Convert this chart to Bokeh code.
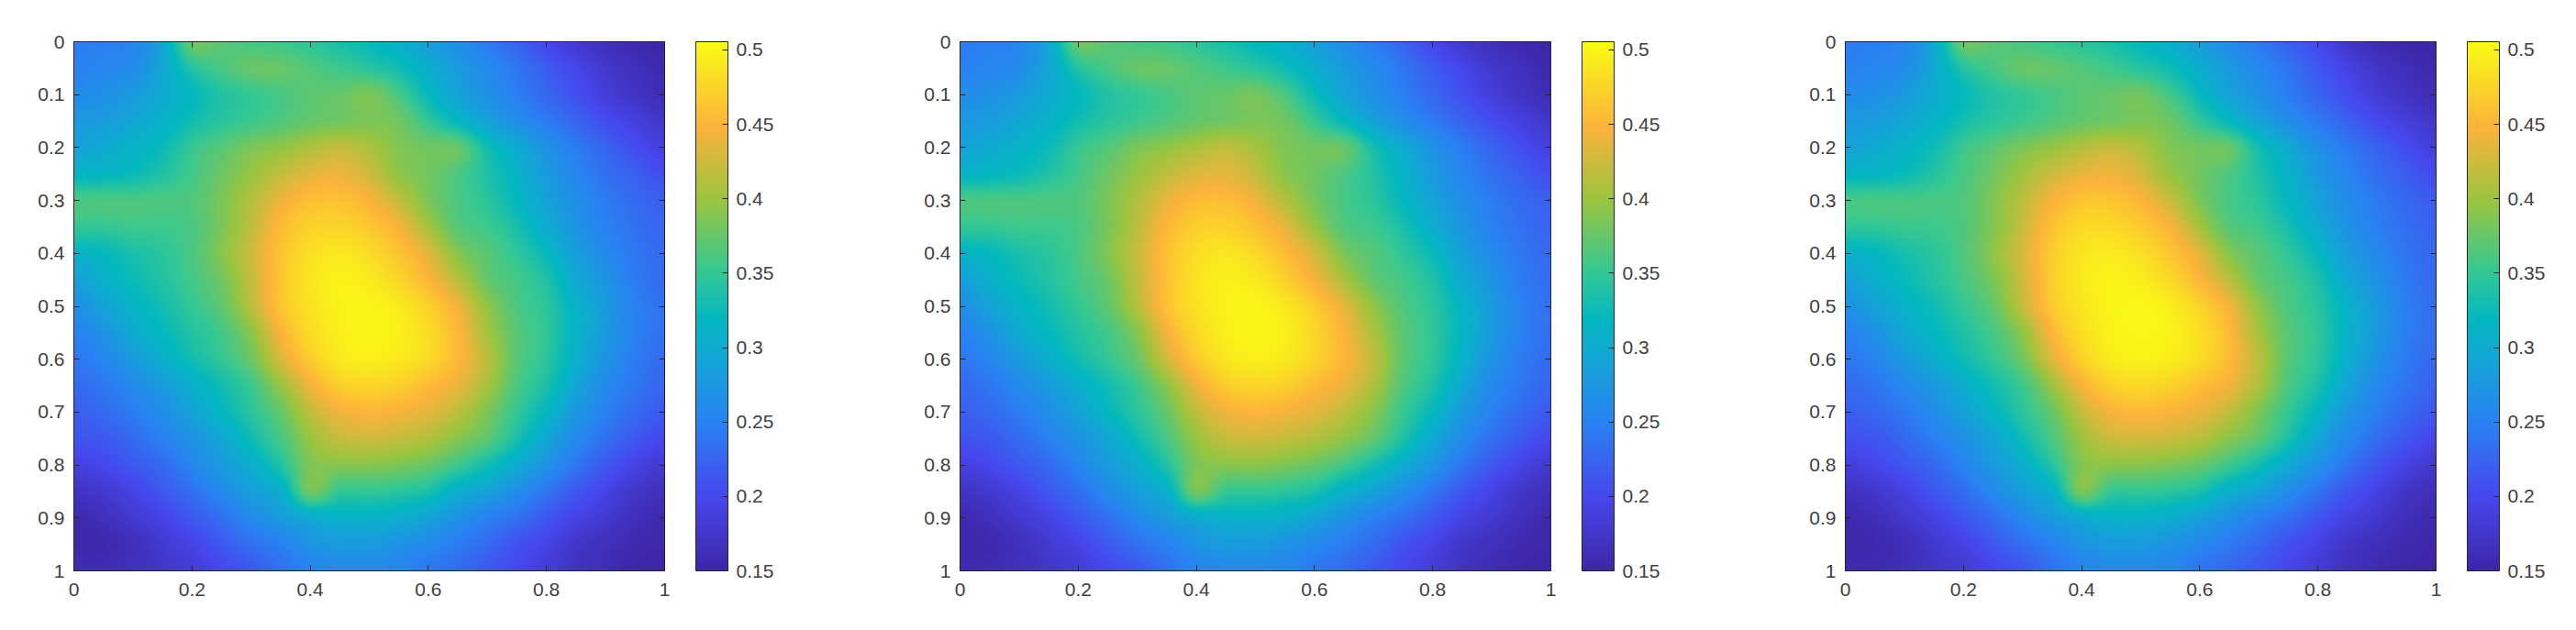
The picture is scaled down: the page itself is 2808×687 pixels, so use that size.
import numpy as np
from bokeh.embed import file_html
from bokeh.layouts import row
from bokeh.models import ColorBar, FixedTicker, LinearAxis, LinearColorMapper, Range1d
from bokeh.plotting import figure
from bokeh.resources import INLINE

AXIS_TICKS = [0, 0.1, 0.2, 0.3, 0.4, 0.5, 0.6, 0.7, 0.8, 0.9, 1]
X_TICKS = [0, 0.2, 0.4, 0.6, 0.8, 1]
Y_LABELS = ["0", "0.1", "0.2", "0.3", "0.4", "0.5", "0.6", "0.7", "0.8", "0.9", "1"]
X_LABELS = ["0", "0.2", "0.4", "0.6", "0.8", "1"]
CB_TICKS = [0.15, 0.2, 0.25, 0.3, 0.35, 0.4, 0.45, 0.5]
CB_LABELS = ["0.15", "0.2", "0.25", "0.3", "0.35", "0.4", "0.45", "0.5"]
C_LOW, C_HIGH = 0.15, 0.5055

# values, in thousandths, at steps of 0.05 along each axis
panel_1 = [
[245,250,255,295,378,368,360,355,347,335,322,306,285,265,245,225,200,180,165,155,150],
[250,255,262,295,340,360,375,375,365,355,345,330,305,280,260,240,218,198,178,165,155],
[262,268,280,300,320,340,350,360,370,375,385,360,322,290,268,248,228,208,188,172,160],
[278,282,295,310,330,345,355,365,375,380,385,380,350,320,290,265,245,225,205,190,175],
[290,300,312,325,352,368,385,395,410,420,408,388,380,375,330,300,270,245,225,205,190],
[315,318,325,340,358,378,398,420,435,440,425,395,380,362,338,312,280,255,235,220,205],
[360,362,362,362,365,385,412,440,458,460,448,420,385,362,345,320,290,265,245,230,220],
[348,350,355,355,362,385,418,455,472,475,465,445,405,368,355,335,302,272,250,235,225],
[312,320,335,345,362,390,425,462,483,490,480,462,435,390,368,348,322,285,260,240,230],
[285,308,325,340,358,380,420,462,488,497,492,476,450,415,375,358,338,298,272,245,230],
[265,290,312,330,350,372,415,462,485,497,500,492,472,442,395,362,345,312,280,250,235],
[250,270,300,320,340,358,392,447,480,495,500,496,480,452,405,368,348,312,280,250,235],
[240,255,280,305,330,350,378,430,468,490,495,490,478,452,415,368,345,308,272,245,230],
[230,240,260,280,305,330,355,398,442,470,475,470,455,438,405,362,335,295,260,240,225],
[220,230,245,265,290,318,345,375,418,442,450,445,435,415,385,350,318,278,250,230,215],
[210,215,230,250,270,295,328,360,398,420,425,420,410,390,370,335,295,260,235,215,200],
[190,200,215,230,255,280,305,340,385,390,390,385,375,355,330,300,270,240,215,195,180],
[170,180,195,215,235,260,285,305,380,350,350,345,335,305,290,265,240,215,195,175,165],
[155,165,180,195,215,235,260,280,300,310,310,305,290,270,250,235,215,195,180,165,155],
[152,155,165,180,195,215,235,250,270,280,280,270,260,245,230,210,195,175,165,155,152],
[160,160,165,175,185,200,215,235,250,260,260,255,240,230,215,200,185,170,160,152,150],
]
panel_2 = [
[245,250,255,295,378,368,360,355,347,335,320,306,285,265,245,225,200,180,165,155,150],
[250,255,262,295,340,360,375,375,365,355,345,328,305,280,260,240,218,198,178,165,155],
[262,268,280,300,320,340,350,360,370,375,382,362,325,292,268,248,228,208,188,172,160],
[278,282,295,310,330,345,355,365,375,380,385,380,352,322,290,265,245,225,205,190,175],
[290,300,312,325,352,366,385,395,408,418,405,386,380,375,332,300,270,245,225,205,190],
[315,318,325,340,358,378,398,418,432,436,420,392,378,362,340,312,280,255,235,220,205],
[360,362,362,362,365,385,410,438,455,457,442,412,382,360,345,320,290,265,245,230,220],
[348,350,355,355,362,384,416,452,470,472,460,436,398,366,355,335,304,274,250,235,225],
[312,320,335,345,362,388,422,460,481,488,477,456,428,385,366,348,324,287,260,240,230],
[285,308,325,340,358,378,418,460,486,496,491,472,444,408,373,358,338,300,272,245,232],
[265,290,312,330,350,372,413,460,485,497,500,490,468,436,395,364,345,314,280,250,235],
[250,270,300,320,340,358,390,443,478,495,500,495,476,448,408,370,348,315,280,250,235],
[240,255,280,305,330,350,376,426,466,488,495,490,474,450,418,370,347,310,272,245,230],
[230,240,260,280,305,330,355,394,440,468,475,470,455,438,408,364,337,297,260,240,225],
[220,230,245,265,290,318,345,375,418,442,450,445,435,417,390,352,320,280,250,230,215],
[210,215,230,250,270,295,328,360,398,420,425,420,410,393,373,338,298,262,235,215,200],
[190,200,215,230,255,280,305,340,385,390,392,385,375,358,332,302,272,240,215,195,180],
[170,180,195,215,235,260,285,308,382,352,350,345,335,308,290,265,240,215,195,175,165],
[155,165,180,195,215,235,260,280,300,310,310,305,290,270,250,235,215,195,180,165,155],
[152,155,165,180,195,215,235,250,270,280,280,270,260,245,230,210,195,175,165,155,152],
[158,160,165,175,185,200,215,235,250,260,260,255,240,230,215,200,185,170,160,152,150],
]
panel_3 = [
[245,250,255,298,378,368,360,352,345,335,320,305,283,262,243,222,203,175,160,152,150],
[250,255,262,298,340,360,375,373,365,355,343,328,303,278,258,238,215,193,174,162,155],
[262,268,280,302,322,340,350,360,370,375,380,358,322,290,268,246,226,205,185,170,160],
[278,282,295,312,332,345,355,365,375,380,385,378,350,320,290,265,243,222,203,188,175],
[290,300,312,328,354,370,385,398,412,422,410,388,380,375,330,298,268,243,223,205,188],
[315,318,325,342,360,380,402,424,438,442,428,398,380,362,338,310,278,253,233,218,203],
[358,360,360,360,365,387,416,445,462,462,450,422,385,360,345,318,288,263,243,228,218],
[346,348,353,355,364,388,422,460,478,478,467,447,405,368,355,333,300,270,248,233,223],
[310,318,333,345,364,394,430,468,488,492,482,464,435,390,368,348,320,283,258,238,228],
[285,306,323,340,360,384,425,468,491,498,494,478,452,415,375,358,336,296,270,243,230],
[268,288,310,328,350,374,420,466,488,499,502,494,474,444,395,362,343,310,278,248,233],
[250,268,298,318,338,360,395,450,482,497,502,498,482,454,405,368,348,310,278,248,233],
[240,253,278,303,328,350,380,433,472,492,497,493,480,454,415,368,345,306,270,243,228],
[230,240,258,278,303,330,355,400,446,472,478,472,458,442,408,362,335,293,258,238,223],
[220,228,243,263,288,316,345,375,420,446,453,448,438,418,385,350,316,276,248,228,213],
[208,213,228,248,268,293,328,362,400,423,427,423,413,390,370,335,293,258,233,213,198],
[188,198,213,228,253,278,305,342,388,392,390,385,375,355,330,298,268,238,213,193,178],
[168,178,193,213,233,258,285,308,384,350,350,345,335,305,290,263,238,213,193,173,163],
[155,163,178,193,213,233,258,280,300,312,310,303,288,268,248,233,213,193,178,163,155],
[152,155,163,178,193,213,233,250,270,280,280,270,258,243,228,208,193,173,163,155,152],
[156,158,163,173,183,198,213,235,250,260,260,253,238,228,213,198,183,168,158,152,150],
]

# colour ramp: position along the bar, red, green, blue
RAMP_POS = [0.0, 0.14, 0.28, 0.42, 0.478, 0.57, 0.70, 0.84, 1.0]
RAMP_R = [0.2422, 0.2750, 0.1600, 0.0600, 0.0100, 0.2161, 0.6000, 0.9900, 0.9769]
RAMP_G = [0.1504, 0.2800, 0.5100, 0.6700, 0.7200, 0.7843, 0.7700, 0.7000, 0.9839]
RAMP_B = [0.6603, 0.9300, 0.9500, 0.8200, 0.7500, 0.5700, 0.2500, 0.2300, 0.0805]
t = np.linspace(0, 1, 256)
rgb = np.stack([np.interp(t, RAMP_POS, c) for c in (RAMP_R, RAMP_G, RAMP_B)], axis=1)
palette = ["#%02x%02x%02x" % tuple(int(round(v * 255)) for v in c) for c in rgb]

def shade(values, out_w=644, out_h=577):
    """Smooth shading between the read values (like MATLAB's shading interp)."""
    g = np.asarray(values, float) / 1000.0
    def along(a, n):
        m = a.shape[0]
        s = np.linspace(0, m - 1, n)
        i = np.clip(np.floor(s).astype(int), 0, m - 2)
        u = (s - i)[:, None]
        p0, p1, p2, p3 = a[np.clip(i-1, 0, m-1)], a[i], a[i+1], a[np.clip(i+2, 0, m-1)]
        return 0.5*(2*p1 + (p2-p0)*u + (2*p0-5*p1+4*p2-p3)*u**2 + (3*p1-p0-3*p2+p3)*u**3)
    return along(along(g, out_h).T, out_w).T

INK = "#262626"
TXT = "#404040"
FONT = "Liberation Sans"
FRAME_W, FRAME_H = 644, 577
TOP, BOTTOM = 45, 57

def style(ax):
    ax.axis_line_color = INK
    ax.major_tick_line_color = INK
    ax.major_tick_in = 6
    ax.major_tick_out = 0
    ax.minor_tick_line_color = None
    ax.major_label_text_font = FONT
    ax.major_label_text_font_size = "21px"
    ax.major_label_text_color = TXT

def bare_axis(ticks):
    ax = LinearAxis(ticker=FixedTicker(ticks=ticks), major_label_standoff=0)
    style(ax)
    ax.major_label_text_font_size = "0px"
    ax.major_label_text_color = None
    return ax

def panel(values, left, width):
    p = figure(width=width, height=TOP + FRAME_H + BOTTOM, output_backend="svg", toolbar_location=None,
               x_range=Range1d(0, 1), y_range=Range1d(1, 0),
               min_border_left=left, min_border_right=width - left - FRAME_W,
               min_border_top=TOP, min_border_bottom=BOTTOM)
    p.grid.visible = False
    p.outline_line_color = INK
    mapper = LinearColorMapper(palette=palette, low=C_LOW, high=C_HIGH)
    p.image(image=[shade(values)], x=0, y=0, dw=1, dh=1, color_mapper=mapper)
    p.xaxis.ticker = FixedTicker(ticks=X_TICKS)
    p.yaxis.ticker = FixedTicker(ticks=AXIS_TICKS)
    p.xaxis.major_label_overrides = dict(zip(X_TICKS, X_LABELS))
    p.yaxis.major_label_overrides = dict(zip(AXIS_TICKS, Y_LABELS))
    p.xaxis.major_label_standoff = 13
    p.yaxis.major_label_standoff = 10
    p.yaxis.major_label_orientation = "horizontal"
    style(p.xaxis[0]); style(p.yaxis[0])
    p.add_layout(bare_axis(X_TICKS), "above")
    p.add_layout(bare_axis(AXIS_TICKS), "right")
    cb = ColorBar(color_mapper=mapper, ticker=FixedTicker(ticks=CB_TICKS),
                  major_label_overrides=dict(zip(CB_TICKS, CB_LABELS)),
                  width=35, height=FRAME_H, margin=0, padding=0, location=(34, 0),
                  bar_line_color=INK, major_tick_line_color=INK, major_tick_in=6,
                  minor_tick_line_color=None, major_label_text_font=FONT,
                  major_label_text_font_size="21px", major_label_text_color=TXT, label_standoff=9)
    p.add_layout(cb, "right")
    return p

page = row(panel(panel_1, 80, 1000), panel(panel_2, 46, 950), panel(panel_3, 61, 850), spacing=0)
open("out.html", "w").write(file_html(page, INLINE))
